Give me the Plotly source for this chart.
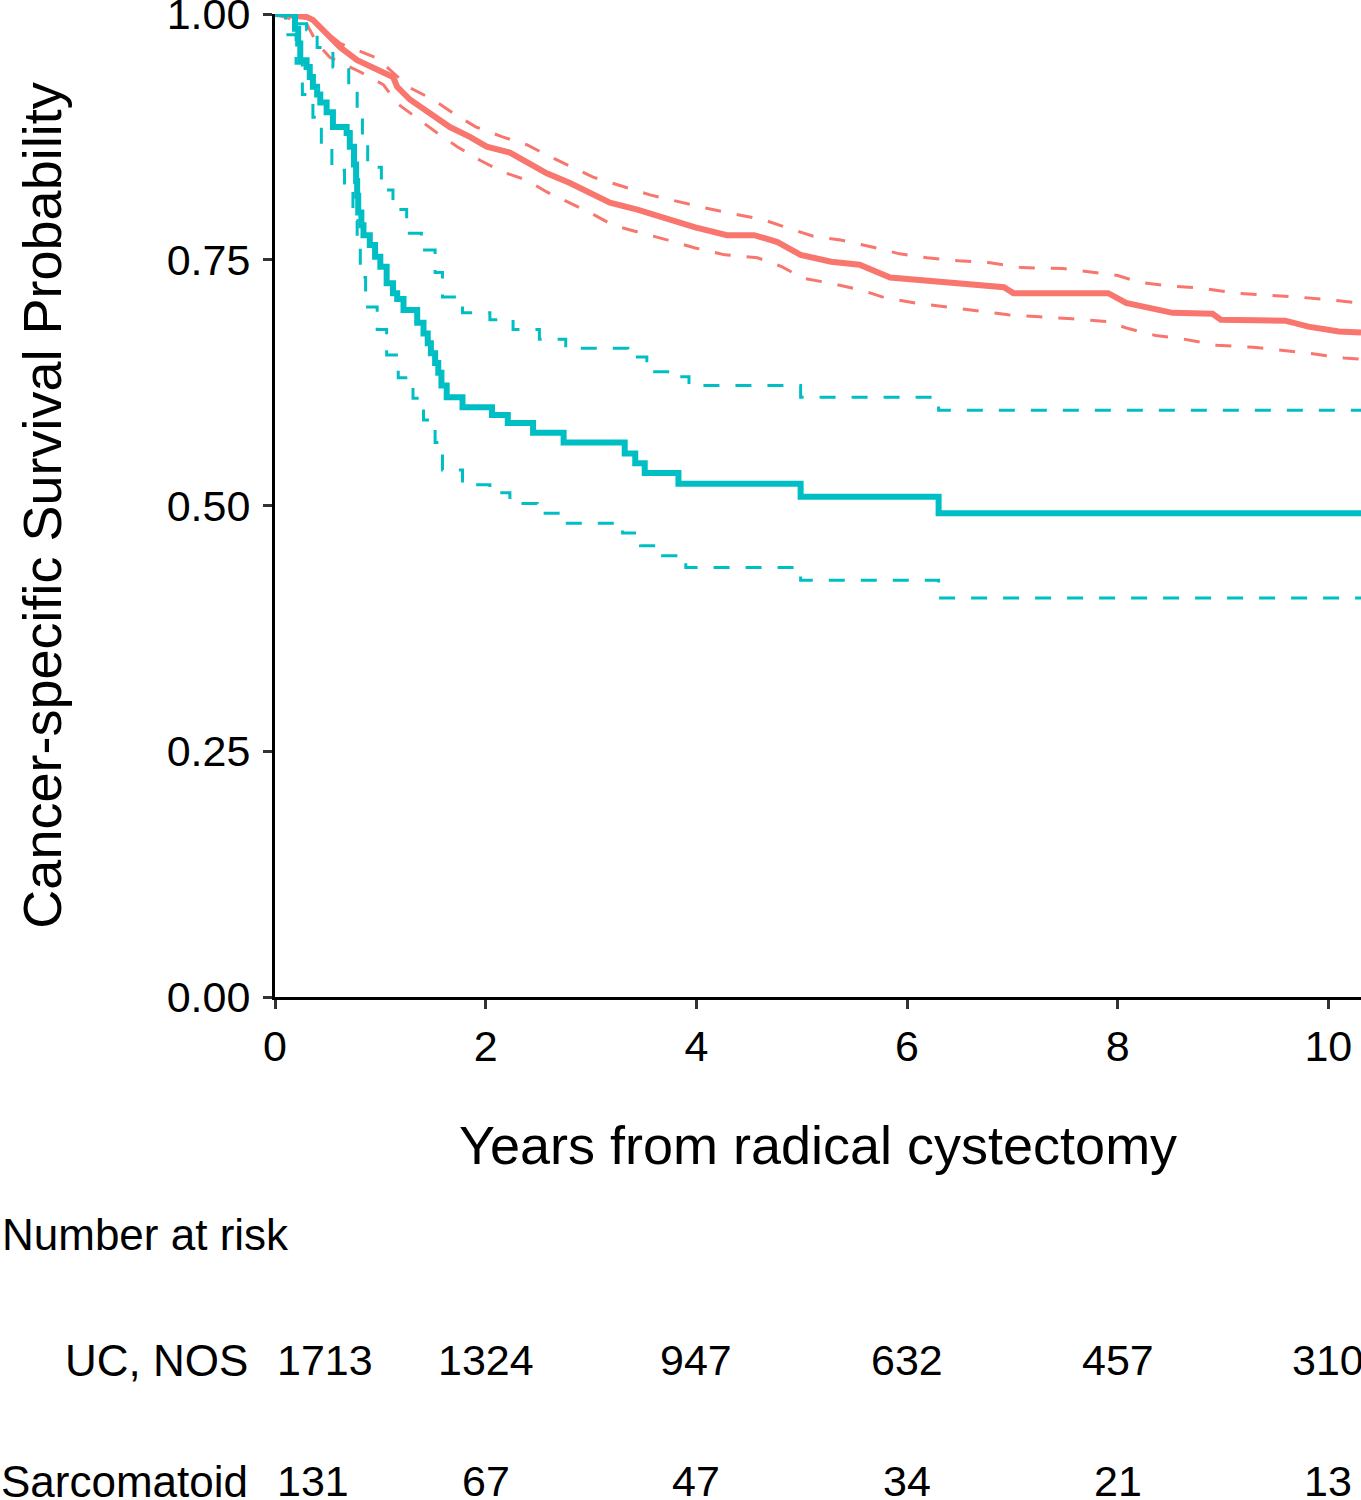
import plotly.graph_objects as go

# ---------------- data ----------------
uc_t = [0, 0.30, 0.36, 0.49, 0.62, 0.78, 0.97, 1.12, 1.16, 1.28, 1.47, 1.66, 1.85, 2.01, 2.23, 2.42,
        2.58, 2.80, 2.99, 3.18, 3.44, 3.70, 3.99, 4.29, 4.55, 4.77, 4.99, 5.28, 5.55, 5.84, 6.14,
        6.57, 6.92, 7.01, 7.91, 8.08, 8.30, 8.52, 8.90, 8.98, 9.59, 9.81, 10.10, 10.31]
uc_s = [1.0, 0.997, 0.994, 0.981, 0.966, 0.953, 0.943, 0.936, 0.926, 0.913, 0.899, 0.885, 0.875,
        0.865, 0.859, 0.848, 0.838, 0.828, 0.818, 0.808, 0.801, 0.792, 0.783, 0.775, 0.775, 0.768,
        0.755, 0.748, 0.745, 0.732, 0.729, 0.724, 0.722, 0.716, 0.716, 0.706, 0.701, 0.696, 0.695,
        0.689, 0.688, 0.682, 0.677, 0.676]

uc_up_t = [0, 0.30, 0.62, 0.97, 1.28, 1.50, 1.72, 1.91, 2.16, 2.39, 2.61, 3.02, 3.56, 3.82, 4.07,
           4.34, 4.63, 4.85, 5.11, 5.37, 5.67, 5.93, 6.19, 6.49, 6.79, 7.09, 7.48, 8.00, 8.21, 8.52,
           8.81, 9.12, 9.72, 10.02, 10.31]
uc_up_s = [1.0, 0.998, 0.970, 0.955, 0.925, 0.913, 0.897, 0.885, 0.875, 0.867, 0.855, 0.834, 0.816,
           0.809, 0.803, 0.797, 0.791, 0.783, 0.774, 0.770, 0.763, 0.756, 0.752, 0.749, 0.747, 0.742,
           0.741, 0.734, 0.727, 0.723, 0.721, 0.716, 0.712, 0.709, 0.706]

uc_lo_t = [0, 0.30, 0.40, 0.52, 0.81, 1.03, 1.16, 1.35, 1.54, 1.73, 1.95, 2.17, 2.39, 2.58, 2.80,
           2.99, 3.21, 3.50, 3.73, 3.99, 4.27, 4.58, 4.81, 5.02, 5.28, 5.57, 5.80, 6.08, 6.38, 6.67,
           6.96, 7.26, 7.57, 7.91, 8.10, 8.36, 8.64, 8.94, 9.29, 9.81, 10.15, 10.31]
uc_lo_s = [1.0, 0.990, 0.970, 0.956, 0.941, 0.928, 0.909, 0.894, 0.879, 0.865, 0.851, 0.839, 0.831,
           0.819, 0.808, 0.798, 0.785, 0.777, 0.770, 0.762, 0.755, 0.752, 0.743, 0.731, 0.726, 0.719,
           0.711, 0.706, 0.702, 0.698, 0.694, 0.692, 0.690, 0.687, 0.680, 0.673, 0.669, 0.663, 0.661,
           0.655, 0.650, 0.649]

sar_t = [0, 0.19, 0.22, 0.24, 0.30, 0.33, 0.36, 0.40, 0.43, 0.49, 0.55, 0.68, 0.71, 0.75, 0.77, 0.78,
         0.79, 0.82, 0.84, 0.90, 0.95, 1.00, 1.06, 1.12, 1.16, 1.22, 1.35, 1.41, 1.45, 1.48, 1.52,
         1.55, 1.58, 1.63, 1.78, 2.06, 2.21, 2.45, 2.74, 3.32, 3.42, 3.51, 3.83, 4.99, 6.30, 10.31]
sar_s = [1.0, 0.985, 0.970, 0.953, 0.946, 0.936, 0.926, 0.918, 0.910, 0.900, 0.885, 0.879, 0.865,
         0.847, 0.830, 0.815, 0.798, 0.785, 0.775, 0.765, 0.753, 0.743, 0.726, 0.716, 0.710, 0.699,
         0.686, 0.675, 0.665, 0.655, 0.645, 0.635, 0.622, 0.610, 0.600, 0.592, 0.584, 0.574, 0.564,
         0.553, 0.543, 0.533, 0.522, 0.509, 0.492, 0.492]

sar_up_t = [0, 0.15, 0.30, 0.40, 0.55, 0.70, 0.78, 0.83, 0.88, 1.01, 1.12, 1.25, 1.39, 1.52, 1.59,
            1.78, 2.04, 2.26, 2.51, 2.76, 3.35, 3.53, 3.75, 3.93, 4.99, 6.30, 10.31]
sar_up_s = [1.0, 0.990, 0.984, 0.966, 0.946, 0.930, 0.902, 0.872, 0.844, 0.821, 0.801, 0.777, 0.760,
            0.737, 0.712, 0.696, 0.689, 0.679, 0.669, 0.660, 0.651, 0.636, 0.631, 0.622, 0.610,
            0.597, 0.597]

sar_lo_t = [0, 0.10, 0.20, 0.26, 0.36, 0.44, 0.54, 0.66, 0.74, 0.78, 0.81, 0.86, 0.97, 1.06, 1.17,
            1.31, 1.41, 1.52, 1.59, 1.78, 2.04, 2.23, 2.49, 2.74, 3.30, 3.47, 3.68, 3.90, 4.99, 6.30,
            10.31]
sar_lo_s = [1.0, 0.979, 0.950, 0.918, 0.895, 0.865, 0.841, 0.821, 0.790, 0.763, 0.732, 0.702, 0.679,
            0.653, 0.630, 0.609, 0.587, 0.564, 0.536, 0.521, 0.513, 0.502, 0.492, 0.482, 0.472,
            0.459, 0.449, 0.437, 0.424, 0.406, 0.406]

x_ticks = [0, 2, 4, 6, 8, 10]
y_ticks = [0.0, 0.25, 0.5, 0.75, 1.0]
y_ticktext = ["0.00", "0.25", "0.50", "0.75", "1.00"]

risk_groups = ["UC, NOS", "Sarcomatoid"]
risk_times = [0, 2, 4, 6, 8, 10]
uc_risk = [1713, 1324, 947, 632, 457, 310]
sar_risk = [131, 67, 47, 34, 21, 13]

RED = "#F8766D"
TEAL = "#00BFC4"
FONT = "Liberation Sans, Arial, sans-serif"

fig = go.Figure()

def add(t, s, color, width, dash, shape, name):
    fig.add_trace(go.Scatter(x=t, y=s, mode="lines", name=name,
                             line=dict(color=color, width=width, dash=dash, shape=shape),
                             showlegend=False, hoverinfo="skip"))

DASH = "16px,16px"
# UC curve has many tiny steps (large cohort) -> drawn through the read points
add(uc_up_t, uc_up_s, RED, 3, DASH, "linear", "UC upper")
add(uc_lo_t, uc_lo_s, RED, 3, DASH, "linear", "UC lower")
add(uc_t, uc_s, RED, 6, "solid", "linear", "UC, NOS")
add(sar_up_t, sar_up_s, TEAL, 3, DASH, "hv", "Sarc upper")
add(sar_lo_t, sar_lo_s, TEAL, 3, DASH, "hv", "Sarc lower")
add(sar_t, sar_s, TEAL, 6, "solid", "hv", "Sarcomatoid")

fig.update_layout(
    width=1361, height=1500,
    margin=dict(l=275, r=0, t=14, b=503, autoexpand=False),
    paper_bgcolor="white", plot_bgcolor="white",
    font=dict(family=FONT, color="black"),
)
fig.update_xaxes(
    range=[0, 10.31], tickvals=x_ticks, ticks="outside", ticklen=9, tickwidth=3,
    tickcolor="#333333", showline=True, linecolor="black", linewidth=3, showgrid=False,
    zeroline=False, tickfont=dict(size=43, color="black", family=FONT),
    ticklabeloverflow="allow", automargin=False,
    title=dict(text="Years from radical cystectomy", font=dict(size=54, color="black", family=FONT),
               standoff=58),
)
fig.update_yaxes(
    range=[0, 1], tickvals=y_ticks, ticktext=y_ticktext, ticks="outside", ticklen=9, tickwidth=3,
    tickcolor="#333333", showline=True, linecolor="black", linewidth=3, showgrid=False,
    zeroline=False, tickfont=dict(size=43, color="black", family=FONT),
    ticklabeloverflow="allow", ticklabelstandoff=4, automargin=False,
    title=dict(text="Cancer-specific Survival Probability",
               font=dict(size=54, color="black", family=FONT), standoff=88),
)

# Number at risk table
ann = [dict(text="Number at risk", xref="paper", yref="paper", x=-275 / 1086, y=-0.2421,
            xanchor="left", yanchor="middle", showarrow=False, font=dict(size=44, color="black"))]
rows = [(risk_groups[0], uc_risk, -0.3693), (risk_groups[1], sar_risk, -0.4925)]
for label, vals, yy in rows:
    ann.append(dict(text=label, xref="paper", yref="paper", x=-25 / 1086, y=yy, xanchor="right",
                    yanchor="middle", showarrow=False, font=dict(size=44, color="black")))
    for i, (tt, v) in enumerate(zip(risk_times, vals)):
        ann.append(dict(text=str(v), xref="x", yref="paper", x=tt, y=yy,
                        xanchor="left" if i == 0 else "center", yanchor="middle",
                        showarrow=False, font=dict(size=43, color="black")))
fig.update_layout(annotations=ann)

fig.write_html("out.html", config={"displayModeBar": False},
               post_script="document.body.style.margin='0';")
